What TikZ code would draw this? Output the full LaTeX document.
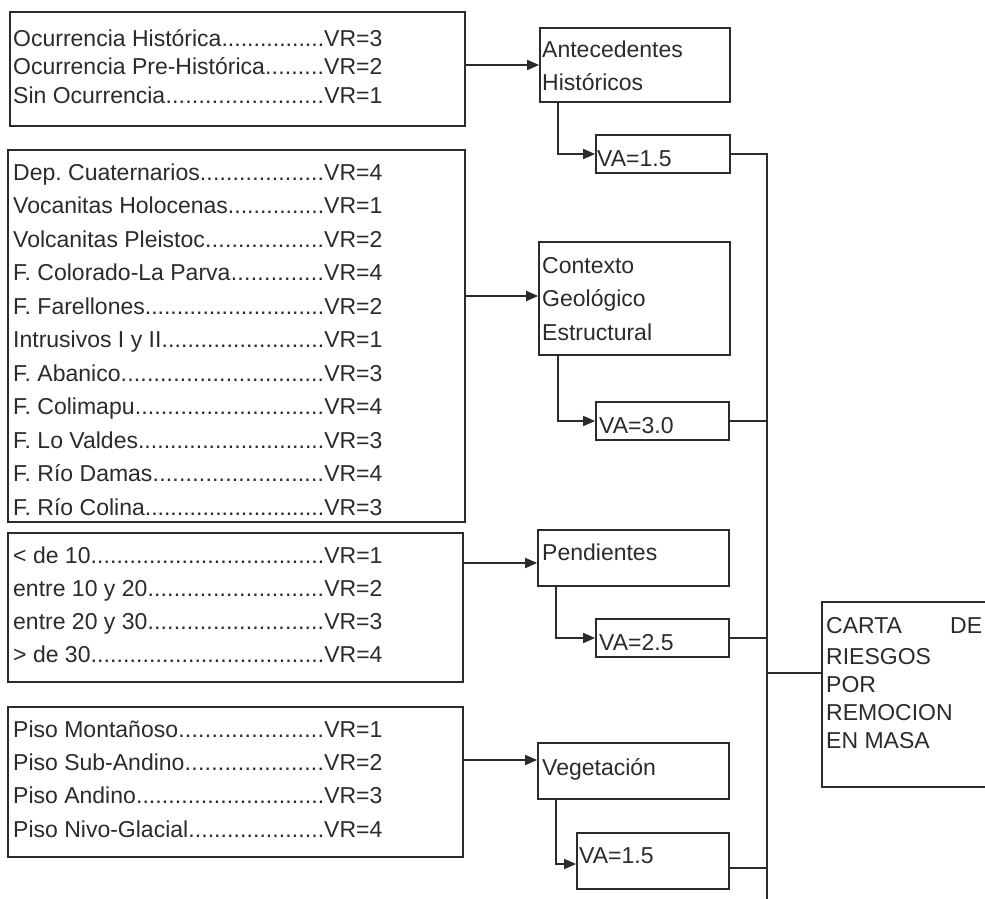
\documentclass[tikz,border=0pt]{standalone}
\usepackage{fontspec}
\setmainfont{Liberation Sans}
\usetikzlibrary{arrows.meta,calc}
\definecolor{ink}{HTML}{2B2B2B}
\frenchspacing
\newcommand{\vrline}[2]{\makebox[311pt][l]{#1\xleaders\hbox{.}\hfill}VR=#2}
\begin{document}
\begin{tikzpicture}[x=1pt,y=-1pt,
  box/.style={draw=ink, line width=1.8pt, inner sep=0pt, rectangle},
  txt/.style={inner sep=0pt, anchor=base west, text=ink, font=\fontsize{23}{28}\selectfont},
  link/.style={draw=ink, line width=1.8pt},
  arr/.style={link, -{Triangle[length=12pt,width=10pt]}}]
\useasboundingbox (0,0) rectangle (985,899);
\clip (0,0) rectangle (985,899);
\fill[white] (0,0) rectangle (985,899);

% left boxes
\node[box, minimum width=455pt, minimum height=114pt] (b1) at (237.5,69) {};
\foreach \t/\v [count=\i] in {Ocurrencia Histórica/3, Ocurrencia Pre-Histórica/2, Sin Ocurrencia/1}
  \node[txt] (b1l\i) at (13,{46.5+28.3*(\i-1)}) {\vrline{\t}{\v}};

\node[box, minimum width=457pt, minimum height=372pt] (b2) at (236.5,336) {};
\foreach \t/\v [count=\i] in {Dep. Cuaternarios/4, Vocanitas Holocenas/1, Volcanitas Pleistoc/2,
  F. Colorado-La Parva/4, F. Farellones/2, Intrusivos I y II/1, F. Abanico/3, F. Colimapu/4,
  F. Lo Valdes/3, F. Río Damas/4, F. Río Colina/3}
  \node[txt] (b2l\i) at (13,{180+33.5*(\i-1)}) {\vrline{\t}{\v}};

\node[box, minimum width=455pt, minimum height=149pt] (b3) at (235.5,607.5) {};
\foreach \t/\v [count=\i] in {< de 10/1, entre 10 y 20/2, entre 20 y 30/3, > de 30/4}
  \node[txt] (b3l\i) at (13,{563+33.3*(\i-1)}) {\vrline{\t}{\v}};

\node[box, minimum width=455pt, minimum height=150pt] (b4) at (235.5,782) {};
\foreach \t/\v [count=\i] in {Piso Montañoso/1, Piso Sub-Andino/2, Piso Andino/3, Piso Nivo-Glacial/4}
  \node[txt] (b4l\i) at (13,{737+33.4*(\i-1)}) {\vrline{\t}{\v}};

% middle boxes
\node[box, minimum width=190pt, minimum height=74pt] (ant) at (635,65) {};
\node[txt] (antA) at (542,58) {Antecedentes};
\node[txt] (antB) at (542,90) {Históricos};
\node[box, minimum width=134pt, minimum height=38pt] (va1) at (663,154) {};
\node[txt] (va1t) at (597,166.5) {VA=1.5};

\node[box, minimum width=191pt, minimum height=113pt] (ctx) at (634.5,298.5) {};
\node[txt] (ctxA) at (542,273) {Contexto};
\node[txt] (ctxB) at (542,306.5) {Geológico};
\node[txt] (ctxC) at (542,340) {Estructural};
\node[box, minimum width=133pt, minimum height=38pt] (va3) at (662.5,421) {};
\node[txt] (va3t) at (599,433) {VA=3.0};

\node[box, minimum width=191pt, minimum height=56pt] (pen) at (633.5,558) {};
\node[txt] (penA) at (542,560) {Pendientes};
\node[box, minimum width=133pt, minimum height=38pt] (va25) at (662.5,638) {};
\node[txt] (va25t) at (599,650) {VA=2.5};

\node[box, minimum width=191pt, minimum height=56pt] (veg) at (633.5,771) {};
\node[txt] (vegA) at (542,775) {Vegetación};
\node[box, minimum width=152pt, minimum height=56pt] (va15) at (653,861) {};
\node[txt] (va15t) at (579,863) {VA=1.5};

% result box
\node[box, minimum width=200pt, minimum height=185pt] (carta) at (922,694.5) {};
\node[txt] (cA) at (826,633) {\makebox[156pt][l]{CARTA\hfill DE}};
\node[txt] (cB) at (826,664) {RIESGOS};
\node[txt] (cC) at (826,692) {POR};
\node[txt] (cD) at (826,720) {REMOCION};
\node[txt] (cE) at (826,748) {EN MASA};

% connectors
\coordinate (bus) at (767,0);
\coordinate (busbot) at (767,899);
\draw[arr] (b1.east |- ant.west) -- (ant.west);
\coordinate (ctxin) at ($(ctx.west)+(0,-2.5)$);
\draw[arr] (b2.east |- ctxin) -- (ctxin);
\coordinate (penin) at ($(pen.west)+(0,5)$);
\draw[arr] (b3.east |- penin) -- (penin);
\coordinate (vegin) at ($(veg.west)+(0,-11)$);
\draw[arr] (b4.east |- vegin) -- (vegin);

\draw[arr] ($(ant.south west)+(19,0)$) |- (va1.west);
\draw[arr] ($(ctx.south west)+(20,0)$) |- (va3.west);
\draw[arr] ($(pen.south west)+(19,0)$) |- (va25.west);
\coordinate (va15in) at ($(va15.west)+(0,3)$);
\draw[arr] ($(veg.south west)+(19,0)$) |- (va15in);

\draw[link] (va1.east) -| (busbot);
\draw[link] (va3.east) -- (va3.east -| bus);
\draw[link] (va25.east) -- (va25.east -| bus);
\coordinate (v15o) at ($(va15.east)+(0,7)$);
\draw[link] (v15o) -- (v15o -| bus);
\coordinate (cin) at ($(carta.west)+(0,-21.5)$);
\draw[link] (cin -| bus) -- (cin);
\end{tikzpicture}
\end{document}
